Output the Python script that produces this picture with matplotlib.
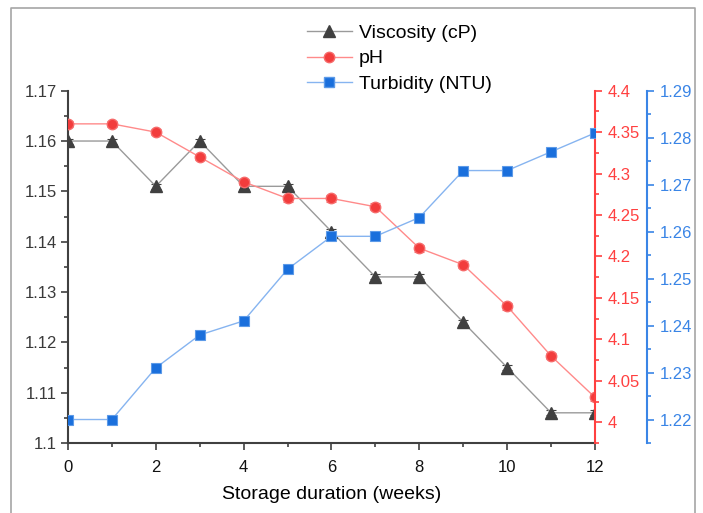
import numpy as np
import matplotlib
matplotlib.use("Agg")
import matplotlib.pyplot as plt
from matplotlib.lines import Line2D
from matplotlib.ticker import MultipleLocator, FixedLocator

plt.rcParams['font.family'] = ['Liberation Sans', 'DejaVu Sans']

weeks = list(range(13))
viscosity = [1.160, 1.160, 1.151, 1.160, 1.151, 1.151, 1.142, 1.133, 1.133, 1.124, 1.115, 1.106, 1.106]
visc_err = [0.0005] * 13
ph = [4.36, 4.36, 4.35, 4.32, 4.29, 4.27, 4.27, 4.26, 4.21, 4.19, 4.14, 4.08, 4.03]
ph_err = [0.004] * 13
turbidity = [1.220, 1.220, 1.231, 1.238, 1.241, 1.252, 1.259, 1.259, 1.263, 1.273, 1.273, 1.277, 1.281]

GRAY_LINE, GRAY_MK = "#9a9a9a", "#404040"
RED_LINE, RED_MK = "#ff8a8a", "#f23c3c"
BLUE_LINE, BLUE_MK = "#86b4f0", "#1a6fdc"
RED_AX, BLUE_AX = "#ff4040", "#3a85e6"

W, H = 703, 513
fig = plt.figure(figsize=(W / 100, H / 100), dpi=100)
ax = fig.add_axes([68 / W, 1 - 443 / H, (595 - 68) / W, (443 - 90.7) / H])

# outer frame
fig.add_artist(Line2D([11 / W, 11 / W, 695 / W, 695 / W], [-0.02, 1 - 7.5 / H, 1 - 7.5 / H, -0.02],
                      transform=fig.transFigure, color="#a6a6a6", lw=1.2))

ax.errorbar(weeks, viscosity, yerr=visc_err, color=GRAY_LINE, lw=1, marker="^", ms=8.5,
            mfc=GRAY_MK, mec=GRAY_MK, ecolor=GRAY_MK, elinewidth=0.8, capsize=3.5, capthick=0.8,
            label="Viscosity (cP)")
ax.set_xlim(0, 12)
ax.set_ylim(1.1, 1.17)
ax.xaxis.set_major_locator(MultipleLocator(2))
ax.xaxis.set_minor_locator(MultipleLocator(1))
ax.yaxis.set_major_locator(MultipleLocator(0.01))
ax.yaxis.set_minor_locator(MultipleLocator(0.005))
ax.set_yticks(np.arange(1.10, 1.1701, 0.01))
ax.set_yticklabels(["1.1", "1.11", "1.12", "1.13", "1.14", "1.15", "1.16", "1.17"])
for s in ["top", "right"]:
    ax.spines[s].set_visible(False)
for s in ["left", "bottom"]:
    ax.spines[s].set_color(GRAY_MK)
    ax.spines[s].set_linewidth(1.5)
ax.tick_params(axis="both", which="major", direction="out", length=5, width=1.2, color=GRAY_MK,
               labelsize=12, pad=3)
ax.tick_params(axis="both", which="minor", direction="out", length=3, width=1.2, color=GRAY_MK)
ax.tick_params(axis="y", labelcolor="#3a3a3a")
ax.tick_params(axis="x", labelcolor="#111111", pad=7)
ax.set_xlabel("Storage duration (weeks)", fontsize=14, labelpad=8)

ax2 = ax.twinx()
ax2.errorbar(weeks, ph, yerr=ph_err, color=RED_LINE, lw=1, marker="o", ms=7.5,
             mfc=RED_MK, mec="#f66a6a", ecolor="#f57a7a", elinewidth=0.8, capsize=3.5, capthick=0.8,
             label="pH")
ax2.set_ylim(3.975, 4.4)
ax2.yaxis.set_major_locator(FixedLocator(np.arange(4.0, 4.4001, 0.05)))
ax2.yaxis.set_minor_locator(FixedLocator(np.arange(3.975, 4.4001, 0.05)))
ax2.set_yticklabels(["4", "4.05", "4.1", "4.15", "4.2", "4.25", "4.3", "4.35", "4.4"])
for s in ["top", "left", "bottom"]:
    ax2.spines[s].set_visible(False)
ax2.spines["right"].set_color(RED_AX)
ax2.spines["right"].set_linewidth(1.5)
ax2.tick_params(axis="y", which="major", direction="out", length=5, width=1.2, color=RED_AX,
                labelcolor=RED_AX, labelsize=12, pad=4)
ax2.tick_params(axis="y", which="minor", direction="out", length=3, width=1.2, color=RED_AX)

ax3 = ax.twinx()
ax3.spines["right"].set_position(("axes", (647 - 68) / (595 - 68)))
ax3.plot(weeks, turbidity, color=BLUE_LINE, lw=1, marker="s", ms=7, mfc=BLUE_MK, mec="#5c9ae8",
         mew=0.8, label="Turbidity (NTU)")
ax3.set_ylim(1.215, 1.29)
ax3.yaxis.set_major_locator(FixedLocator(np.arange(1.22, 1.2901, 0.01)))
ax3.yaxis.set_minor_locator(FixedLocator(np.arange(1.215, 1.2901, 0.01)))
ax3.set_yticklabels(["1.22", "1.23", "1.24", "1.25", "1.26", "1.27", "1.28", "1.29"])
for s in ["top", "left", "bottom"]:
    ax3.spines[s].set_visible(False)
ax3.spines["right"].set_color(BLUE_AX)
ax3.spines["right"].set_linewidth(1.5)
ax3.tick_params(axis="y", which="major", direction="out", length=5, width=1.2, color=BLUE_AX,
                labelcolor=BLUE_AX, labelsize=12, pad=4)
ax3.tick_params(axis="y", which="minor", direction="out", length=3, width=1.2, color=BLUE_AX)

handles = [
    Line2D([], [], color=GRAY_LINE, lw=1, marker="^", ms=8.5, mfc=GRAY_MK, mec=GRAY_MK),
    Line2D([], [], color=RED_LINE, lw=1, marker="o", ms=7.5, mfc=RED_MK, mec="#f66a6a"),
    Line2D([], [], color=BLUE_LINE, lw=1, marker="s", ms=7, mfc=BLUE_MK, mec="#5c9ae8"),
]
fig.legend(handles, ["Viscosity (cP)", "pH", "Turbidity (NTU)"], loc="upper left",
           bbox_to_anchor=(307 / W, 1 - 24 / H), frameon=False, fontsize=14,
           handlelength=2.3, handletextpad=0.35, labelspacing=0.42, borderpad=0, borderaxespad=0)

fig.savefig("out.png", dpi=100)
